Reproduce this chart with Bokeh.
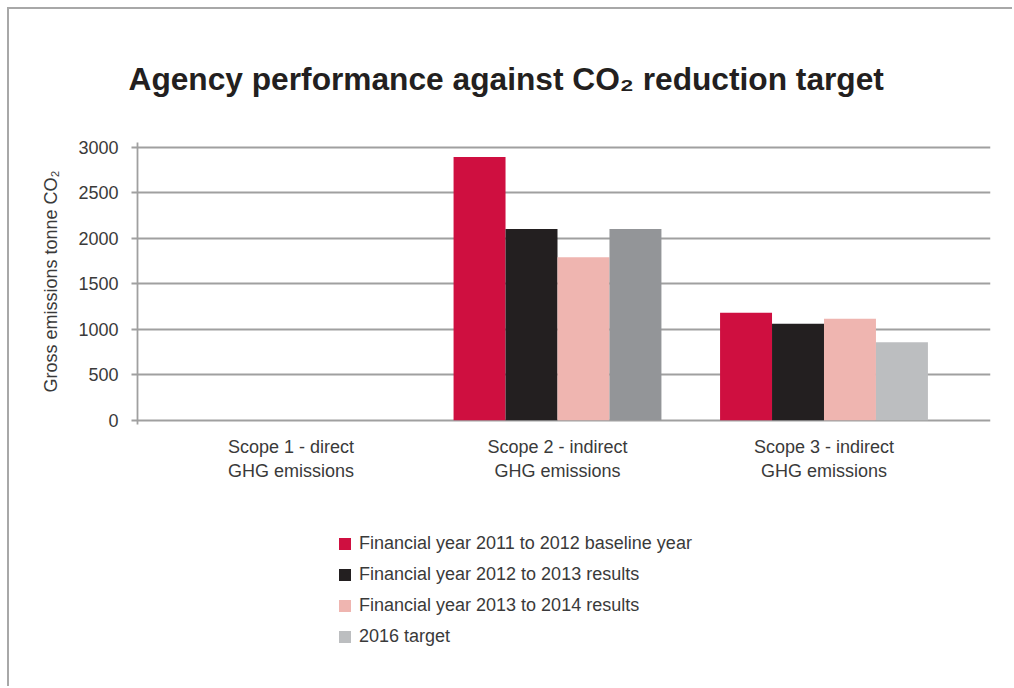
from bokeh.plotting import figure
from bokeh.models import Range1d, ColumnDataSource, Legend, LegendItem, FixedTicker, Title
from bokeh.transform import dodge
from bokeh.core.properties import value
from bokeh.embed import file_html
from bokeh.resources import INLINE

categories = ["Scope 1 - direct\nGHG emissions", "Scope 2 - indirect\nGHG emissions", "Scope 3 - indirect\nGHG emissions"]
fy_2011_2012 = [0, 2890, 1180]
fy_2012_2013 = [0, 2100, 1060]
fy_2013_2014 = [0, 1790, 1115]
target_2016 = [0, 2100, 855]
series_names = ["Financial year 2011 to 2012 baseline year",
                "Financial year 2012 to 2013 results",
                "Financial year 2013 to 2014 results",
                "2016 target"]
y_ticks = [0, 500, 1000, 1500, 2000, 2500, 3000]

FONT = "Liberation Sans"
GRID = "#a0a0a0"
TEXT = "#3a3a3a"
FS = "18px"

xs = [i + 1 for i in range(len(categories))]
src = ColumnDataSource(dict(
    x=xs, a=fy_2011_2012, b=fy_2012_2013, c=fy_2013_2014, d=target_2016,
    dcol=["#bcbec0", "#939598", "#bcbec0"],
))
lab_src = ColumnDataSource(dict(x=xs, y=[0] * len(xs), t=categories))

# frame extends to the bottom so the legend can sit inside it; the value axis is bounded
p = figure(width=1005, height=679, output_backend="svg", toolbar_location=None,
           x_range=Range1d(0.4240, 3.6248), y_range=Range1d(-2892, 3050),
           x_axis_location=None,
           min_border_left=128, min_border_right=24, min_border_top=133, min_border_bottom=5,
           outline_line_color=None, background_fill_color="white", border_fill_color="white")
p.styles = {"margin-left": "7px", "margin-top": "7px",
            "border-left": "2px solid #a8a8a8", "border-top": "2px solid #a8a8a8"}

w = 0.195
r1 = p.vbar(x=dodge("x", -1.5 * w, range=p.x_range), top="a", width=w, source=src,
            fill_color="#cf0f40", line_color=None)
r2 = p.vbar(x=dodge("x", -0.5 * w, range=p.x_range), top="b", width=w, source=src,
            fill_color="#231f20", line_color=None)
r3 = p.vbar(x=dodge("x", 0.5 * w, range=p.x_range), top="c", width=w, source=src,
            fill_color="#efb5b0", line_color=None)
r4 = p.vbar(x=dodge("x", 1.5 * w, range=p.x_range), top="d", width=w, source=src,
            fill_color="dcol", line_color=None)

# category labels under the zero line
p.text(x="x", y="y", text="t", source=lab_src, y_offset=17,
       text_align="center", text_baseline="top", text_line_height=1.2,
       text_font=value(FONT), text_font_size=value(FS), text_color=TEXT)

title = Title(text="Agency performance against CO\u2082 reduction target", align="left",
              offset=-9, standoff=91, text_font=FONT, text_font_size="31.7px",
              text_font_style="bold", text_color="#231f20")
p.add_layout(title, "above")

# y axis
p.yaxis.bounds = (-50, 3050)
p.yaxis.ticker = FixedTicker(ticks=y_ticks)
p.yaxis.major_label_text_font = FONT
p.yaxis.major_label_text_font_size = FS
p.yaxis.major_label_text_color = TEXT
p.yaxis.major_label_standoff = 13
p.yaxis.axis_line_color = GRID
p.yaxis.axis_line_width = 1.8
p.yaxis.major_tick_line_color = GRID
p.yaxis.major_tick_line_width = 1.8
p.yaxis.major_tick_out = 6
p.yaxis.major_tick_in = 0
p.yaxis.minor_tick_line_color = None

# y axis title, anchored to the top of the value axis
ytitle = Title(text="Gross emissions tonne CO\u2082", align="right", offset=28, standoff=29,
               text_font=FONT, text_font_size=FS, text_font_style="normal", text_color=TEXT)
p.add_layout(ytitle, "left")

p.xgrid.grid_line_color = None
p.ygrid.ticker = FixedTicker(ticks=y_ticks)
p.ygrid.grid_line_color = GRID
p.ygrid.grid_line_width = 1.8

legend = Legend(items=[LegendItem(label=n, renderers=[r], index=0)
                       for n, r in zip(series_names, [r1, r2, r3, r4])],
                location=(200, 36), orientation="vertical",
                glyph_width=15, glyph_height=15, label_height=20, spacing=10,
                label_standoff=7, padding=0, margin=0,
                border_line_color=None, background_fill_alpha=0,
                label_text_font=FONT, label_text_font_size=FS, label_text_color=TEXT)
p.add_layout(legend, "center")

open("out.html", "w").write(file_html(p, INLINE))
